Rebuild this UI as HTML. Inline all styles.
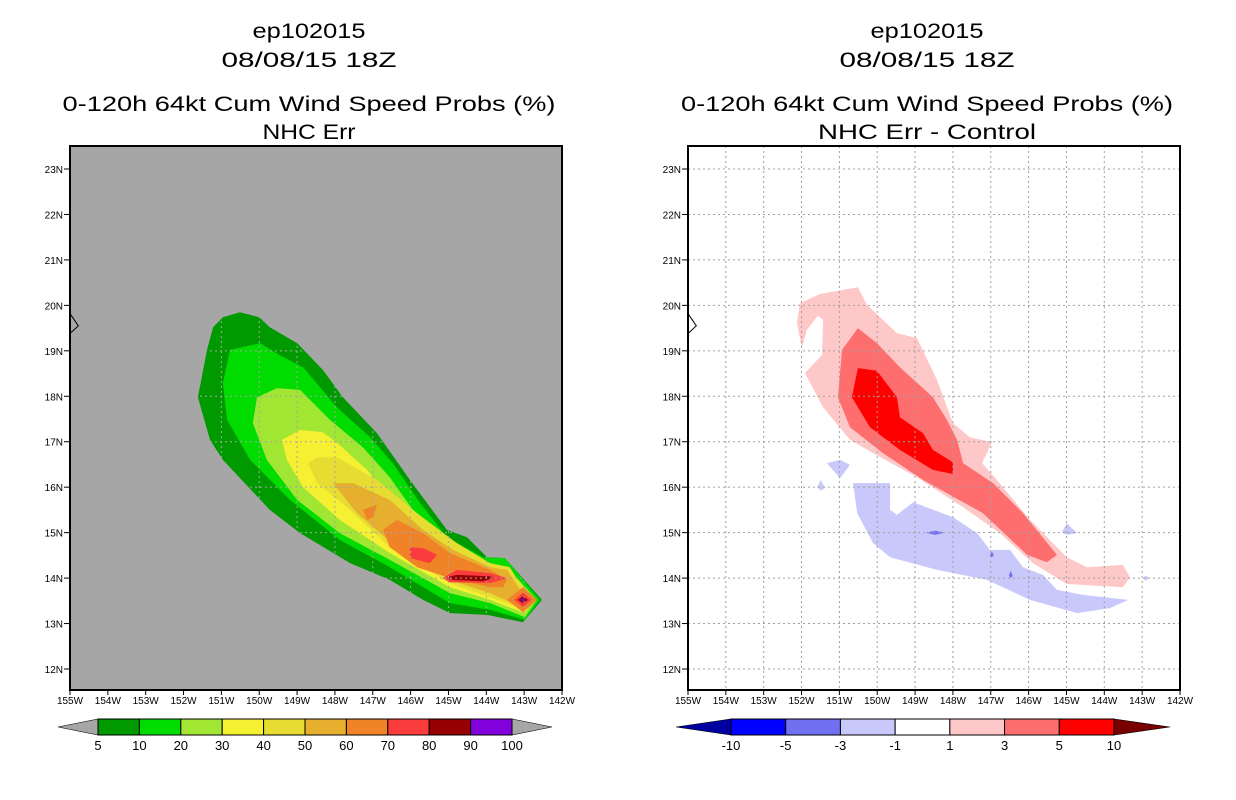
<!DOCTYPE html>
<html><head><meta charset="utf-8"><style>
html,body{margin:0;padding:0;background:#fff;}
svg{display:block;font-family:"Liberation Sans",sans-serif;}
</style></head><body>
<svg id="chart" width="1236" height="800" viewBox="0 0 1236 800">
<g id="root"></g>
</svg>
<script>
// ---------- data (lon in degrees West, lat in degrees North) ----------
const lonTicks = [155,154,153,152,151,150,149,148,147,146,145,144,143,142];
const latTicks = [12,13,14,15,16,17,18,19,20,21,22,23];
const probLevels = ["5","10","20","30","40","50","60","70","80","90","100"];
const probColors = ["#009a00","#00dc00","#a0e632","#f5f032","#e6dc32","#e6af2d","#f08228","#fa3c3c","#960000","#8200dc"];
const diffLevels = ["-10","-5","-3","-1","1","3","5","10"];
const diffColors = ["#0000a0","#0000ff","#7070f0","#c8c8fa","#ffffff","#ffc8c8","#ff6e6e","#ff0000"];
const diffEndColor = "#780000";

// left panel contour polygons [lonW, lat]
const p05 = [[150.51,19.85],[150.0,19.74],[149.72,19.52],[149.0,19.17],[148.32,18.58],[147.79,17.98],[146.89,17.19],[146.02,16.16],[145.04,15.06],[144.51,14.90],[143.98,14.46],[143.51,14.44],[142.53,13.52],[143.03,13.03],[143.98,13.19],[144.96,13.23],[145.67,13.52],[146.55,13.96],[147.60,14.33],[148.92,14.99],[149.72,15.50],[150.96,16.60],[151.30,17.04],[151.62,17.98],[151.38,19.02],[151.22,19.52],[150.96,19.74]];
const p10 = [[150.77,19.02],[149.98,19.17],[149.45,18.90],[148.84,18.64],[147.95,17.76],[147.07,17.10],[146.47,16.53],[145.75,15.65],[145.04,14.90],[144.09,14.46],[143.51,14.44],[142.58,13.52],[142.98,13.08],[143.90,13.30],[144.96,13.45],[146.55,14.24],[147.87,14.84],[149.19,15.72],[150.24,16.60],[150.85,17.48],[150.96,18.29]];
const p20 = [[150.06,17.98],[149.53,18.18],[148.92,18.14],[148.13,17.48],[147.26,16.88],[146.55,16.22],[145.94,15.50],[145.04,14.80],[143.98,14.33],[143.45,14.24],[142.66,13.52],[142.98,13.14],[143.90,13.45],[144.96,13.67],[146.55,14.40],[147.87,14.99],[149.0,15.72],[149.80,16.60],[150.17,17.41]];
const p30 = [[149.40,17.04],[148.92,17.26],[148.32,17.21],[147.95,16.98],[147.15,16.38],[146.47,15.65],[145.67,15.10],[144.78,14.68],[143.90,14.24],[143.38,14.18],[142.77,13.52],[142.98,13.23],[143.90,13.52],[144.96,13.80],[146.55,14.55],[147.87,15.28],[148.84,16.0],[149.27,16.60]];
const p40 = [[148.71,16.53],[148.47,16.66],[147.95,16.66],[146.89,16.16],[145.83,15.43],[144.78,14.77],[143.90,14.33],[143.38,14.24],[142.85,13.52],[142.98,13.30],[143.90,13.58],[144.96,13.89],[146.55,14.68],[147.68,15.56],[148.47,16.09]];
const p50 = [[148.05,16.09],[147.52,16.09],[146.55,15.72],[145.67,15.06],[144.88,14.62],[143.90,14.24],[143.45,14.18],[142.93,13.52],[143.03,13.34],[143.90,13.67],[144.96,13.96],[146.36,14.68],[147.42,15.43]];
const p60a = [[147.26,15.50],[146.89,15.61],[146.99,15.34],[147.15,15.28]];
const p60b = [[146.73,15.06],[146.36,15.28],[145.67,14.99],[144.96,14.55],[143.90,14.18],[143.45,13.96],[143.56,13.80],[143.90,13.80],[144.96,14.0],[145.83,14.24],[146.55,14.68]];
const p60c = [[143.45,13.52],[143.03,13.80],[142.66,13.52],[143.03,13.25]];
const p70a = [[146.02,14.68],[145.67,14.66],[145.30,14.51],[145.49,14.33],[146.02,14.44]];
const p70b = [[145.15,14.0],[144.78,14.18],[143.90,14.11],[143.45,14.0],[143.90,13.89],[144.96,13.91]];
const p70c = [[143.25,13.52],[143.03,13.68],[142.81,13.52],[143.03,13.36]];
const p80a = [[145.04,14.02],[144.78,14.07],[143.90,14.04],[143.82,14.0],[144.09,13.93],[144.88,13.96]];
const p80b = [[143.16,13.52],[143.03,13.60],[142.90,13.52],[143.03,13.44]];
const p90a = [[143.09,13.52],[143.03,13.56],[142.97,13.52],[143.03,13.48]];

// right panel difference polygons
const d1 = [[152.04,20.05],[151.51,20.25],[150.51,20.40],[150.27,20.01],[149.48,19.39],[148.95,19.28],[148.42,18.36],[148.0,17.41],[147.55,17.10],[146.97,16.99],[147.23,16.53],[146.84,16.16],[145.96,15.28],[144.99,14.46],[144.46,14.24],[143.51,14.29],[143.32,14.02],[143.51,13.80],[144.99,13.87],[145.89,14.33],[146.76,14.99],[147.73,15.56],[148.95,16.22],[150.11,16.75],[150.72,17.04],[151.43,17.76],[151.91,18.51],[151.46,18.91],[151.43,19.68],[151.57,19.77],[151.86,19.46],[151.99,19.06],[152.12,19.61]];
const d3 = [[150.51,19.50],[150.01,19.17],[149.40,18.64],[148.53,17.98],[148.16,17.48],[147.89,17.04],[147.73,16.53],[146.94,16.09],[146.15,15.43],[145.25,14.51],[145.52,14.35],[146.04,14.51],[147.21,15.43],[148.79,16.16],[149.85,16.75],[150.72,17.32],[151.04,17.98],[150.93,19.02]];
const d5 = [[150.51,18.62],[150.01,18.56],[149.48,17.98],[149.40,17.54],[148.79,17.19],[148.53,16.82],[148.0,16.55],[148.0,16.29],[148.53,16.38],[149.40,16.82],[150.19,17.32],[150.67,17.98]];
const dm1a = [[150.64,16.09],[149.66,16.09],[149.66,15.50],[149.48,15.39],[149.05,15.67],[148.0,15.34],[147.36,14.99],[147.02,14.62],[146.49,14.62],[146.15,14.24],[145.62,14.07],[145.25,13.74],[144.56,13.63],[143.37,13.52],[143.85,13.34],[144.72,13.23],[145.96,13.52],[147.10,13.96],[148.42,14.18],[149.66,14.46],[150.11,14.77],[150.53,15.43]];
const dm1b = [[151.33,16.53],[150.98,16.60],[150.72,16.49],[150.98,16.20]];
const dm1c = [[151.59,16.0],[151.49,16.16],[151.38,15.98],[151.49,15.92]];
const dm1d = [[145.12,15.01],[144.99,15.21],[144.72,14.99],[144.99,14.95]];
const dm1e = [[142.98,14.0],[142.90,14.06],[142.83,14.0],[142.90,13.94]];
const dm3a = [[148.72,15.0],[148.47,15.04],[148.22,15.0],[148.47,14.95]];
const dm3b = [[147.02,14.50],[146.97,14.58],[146.92,14.50],[146.97,14.46]];
const dm3c = [[146.52,14.05],[146.47,14.16],[146.42,14.05],[146.47,14.00]];

const coast = [[155.0,19.82],[154.78,19.55],[155.0,19.38]];

// ---------- axes ----------
const NS = "http://www.w3.org/2000/svg";
const root = document.getElementById('root');
const PX_LON = 492/13, PX_LAT = 500/11;
function xs(lonW, off){ return off + 70 + (155 - lonW) * PX_LON; }
function ys(lat){ return 169 + (23 - lat) * PX_LAT; }
function mk(tag, attrs, parent){
  const e = document.createElementNS(NS, tag);
  for (const k in attrs) e.setAttribute(k, attrs[k]);
  (parent || root).appendChild(e);
  return e;
}
function poly(pts, off, fill, name, parent){
  const e = mk('polygon', {points: pts.map(p => xs(p[0],off).toFixed(1)+','+ys(p[1]).toFixed(1)).join(' '), fill: fill}, parent);
  
  
  return e;
}
function txt(s, x, y, size, anchor, len, parent){
  const t = mk('text', {x:x, y:y, 'font-size':size, 'text-anchor':anchor||'middle', fill:'#000'}, parent);
  if (len){ t.setAttribute('textLength', len); t.setAttribute('lengthAdjust','spacingAndGlyphs'); }
  t.textContent = s;
  return t;
}

function panel(off, bg, name){
  const g = mk('g', {});
  
  
  const r = mk('rect', {x:70+off, y:146, width:492, height:544, fill:bg}, g);
  
  
  return g;
}

// left panel
const gl = panel(0, '#a6a6a6', 'left-map-panel');
[[p05,0],[p10,1],[p20,2],[p30,3],[p40,4],[p50,5],[p60a,6],[p60b,6],[p60c,6],[p70a,7],[p70b,7],[p70c,7],[p80a,8],[p80b,8],[p90a,9]].forEach(([pts,i]) => {
  poly(pts, 0, probColors[i], 'prob-contour-'+probLevels[i], gl);
});
// right panel
const gr = panel(618, '#ffffff', 'right-map-panel');
[[d1,5],[d3,6],[d5,7],[dm1a,3],[dm1b,3],[dm1c,3],[dm1d,3],[dm1e,3],[dm3a,2],[dm3b,2],[dm3c,2]].forEach(([pts,i]) => {
  poly(pts, 618, diffColors[i], 'diff-contour-'+diffLevels[i], gr);
});

[0,618].forEach((off, pi) => {
  const g = pi ? gr : gl;
  const gc = pi ? '#a0a0a0' : '#a6a6a6';
  lonTicks.forEach(l => {
    const x = xs(l, off);
    if (l !== 155 && l !== 142){
      const ln = mk('line', {x1:x, y1:146, x2:x, y2:690, stroke:gc, 'stroke-width':1, 'stroke-dasharray':'2,3'}, g);
      
      
    }
    mk('line', {x1:x, y1:690, x2:x, y2:695, stroke:'#000'}, g);
    const t = txt(l+'W', x, 704, 10, 'middle', null, g);
    
    
  });
  latTicks.forEach(l => {
    const y = ys(l);
    const ln = mk('line', {x1:70+off, y1:y, x2:562+off, y2:y, stroke:gc, 'stroke-width':1, 'stroke-dasharray':'2,3'}, g);
    
    
    mk('line', {x1:64+off, y1:y, x2:70+off, y2:y, stroke:'#000'}, g);
    const t = txt(l+'N', 63+off, y+4, 10, 'end', null, g);
    
    
  });
  const c = mk('polyline', {points: coast.map(p => xs(p[0],off)+','+ys(p[1])).join(' '), fill:'none', stroke:'#000', 'stroke-width':1}, g);
  
  
  const fr = mk('rect', {x:70+off, y:146, width:492, height:544, fill:'none', stroke:'#000', 'stroke-width':2}, g);
  
  
});

// titles
const titles = [
  [309,'ep102015',113],[309,'08/08/15 18Z',175],[309,'0-120h 64kt Cum Wind Speed Probs (%)',493],[309,'NHC Err',93],
  [927,'ep102015',113],[927,'08/08/15 18Z',175],[927,'0-120h 64kt Cum Wind Speed Probs (%)',492],[927,'NHC Err - Control',218]];
const ty = [38,67,111,139];
titles.forEach((t,i) => {
  const e = txt(t[1], t[0], ty[i%4], 21, 'middle', t[2]);
  
  
});

// colorbars
function colorbar(x0, x1, tl, tr, colors, endL, endR, labels, name){
  const g = mk('g', {});
  
  
  const y0 = 719, y1 = 735, ym = 727;
  const w = (x1 - x0) / colors.length;
  const a = mk('polygon', {points: `${tl},${ym} ${x0},${y0} ${x0},${y1}`, fill:endL, stroke:'#000','stroke-width':0.6}, g);
   
  const b = mk('polygon', {points: `${tr},${ym} ${x1},${y0} ${x1},${y1}`, fill:endR, stroke:'#000','stroke-width':0.6}, g);
   
  colors.forEach((c,i) => {
    const r = mk('rect', {x:x0+i*w, y:y0, width:w, height:y1-y0, fill:c, stroke:'#000', 'stroke-width':1}, g);
    
    
  });
  labels.forEach((l,i) => {
    const t = txt(l, x0+i*w, 750, 13, 'middle', null, g);
    
    
  });
}
colorbar(98, 512, 58, 552, probColors, '#a6a6a6', '#a6a6a6', probLevels.slice(0,11), 'prob-colorbar');
colorbar(731, 1114, 676, 1170, diffColors.slice(1), diffColors[0], diffEndColor, diffLevels, 'diff-colorbar');
</script>
</body></html>
